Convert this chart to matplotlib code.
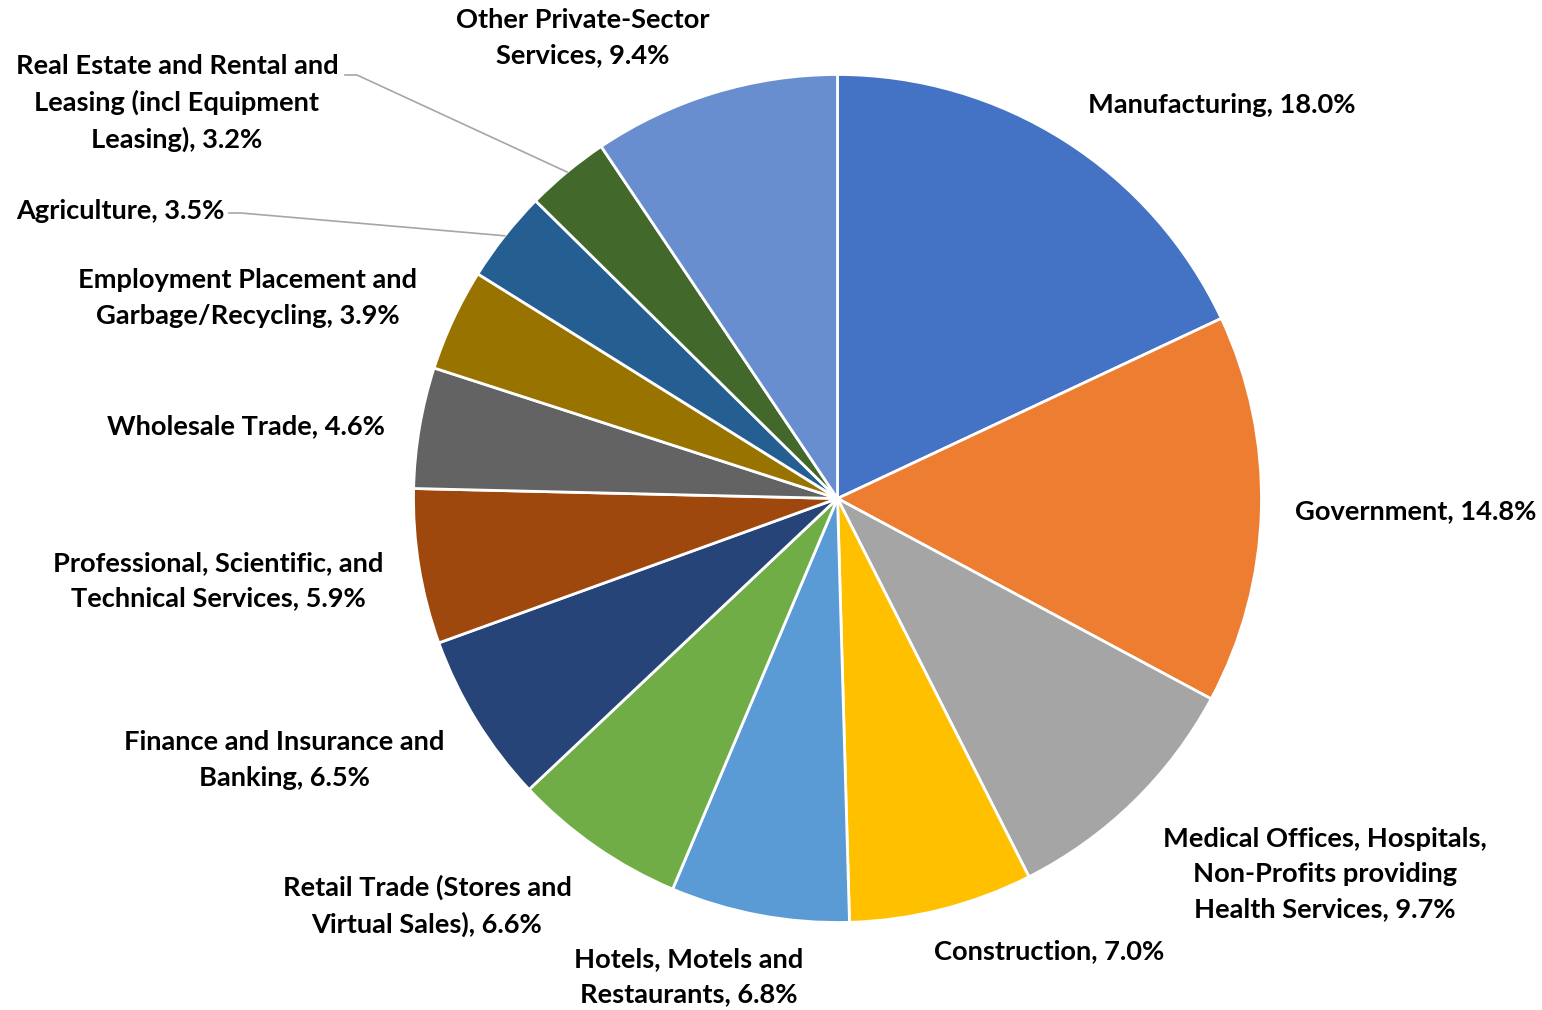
import numpy as np
import matplotlib
matplotlib.use('Agg')
import matplotlib.pyplot as plt

# 資料
sectors = ['Manufacturing', 'Government',
           'Medical Offices, Hospitals,\nNon-Profits providing\nHealth Services',
           'Construction', 'Hotels, Motels and\nRestaurants',
           'Retail Trade (Stores and\nVirtual Sales)',
           'Finance and Insurance and\nBanking',
           'Professional, Scientific, and\nTechnical Services',
           'Wholesale Trade',
           'Employment Placement and\nGarbage/Recycling',
           'Agriculture',
           'Real Estate and Rental and\nLeasing (incl Equipment\nLeasing)',
           'Other Private-Sector\nServices']
shares = [18.0, 14.8, 9.7, 7.0, 6.8, 6.6, 6.5, 5.9, 4.6, 3.9, 3.5, 3.2, 9.4]
colors = ['#4472C4', '#ED7D31', '#A5A5A5', '#FFC000', '#5B9BD5', '#70AD47',
          '#264478', '#9E480E', '#636363', '#997300', '#255E91', '#43682B',
          '#698ED0']

# 版面 (像素座標, y 由上往下)
W, H = 1542, 1010
cx, cy, r = 837.5, 498.5, 424
label_pos = [(1222, 105), (1416, 511), (1325, 874), (1049, 951), (689, 977),
             (427, 906), (284, 760), (218, 581), (246, 426), (248, 298),
             (120, 211), (177, 103), (583, 38)]
# 有引導線的標籤: index -> 線起點
leaders = {11: (345, 75), 10: (229, 213)}

fig = plt.figure(figsize=(W / 100, H / 100), dpi=100)
ax = fig.add_axes([0, 0, 1, 1])
wedges, _ = ax.pie(shares, colors=colors, startangle=90, counterclock=False,
                   radius=r, center=(cx, H - cy),
                   wedgeprops=dict(edgecolor='white', linewidth=2))
ax.set_xlim(0, W)
ax.set_ylim(0, H)
ax.set_aspect('equal')
ax.axis('off')

font = dict(family=['Lato', 'DejaVu Sans'], fontweight='bold', fontsize=19.6)
for i, (name, val) in enumerate(zip(sectors, shares)):
    x, y = label_pos[i]
    ax.text(x, H - y, '%s, %.1f%%' % (name, val), ha='center', va='center',
            multialignment='center', linespacing=1.56, color='black', **font)

for i, (sx, sy) in leaders.items():
    w = wedges[i]
    ang = np.deg2rad((w.theta1 + w.theta2) / 2)
    ex = cx + r * np.cos(ang)
    ey = H - cy + r * np.sin(ang)
    ax.plot([sx, sx + 12, ex], [H - sy, H - sy, ey], color='#A6A6A6', lw=1.2)

ax.text(1030, H - 1022, 'Page 9 of 17', ha='center', va='center',
        fontsize=18, family=['Lato', 'DejaVu Sans'], color='black')

fig.savefig('out.png', dpi=100)
